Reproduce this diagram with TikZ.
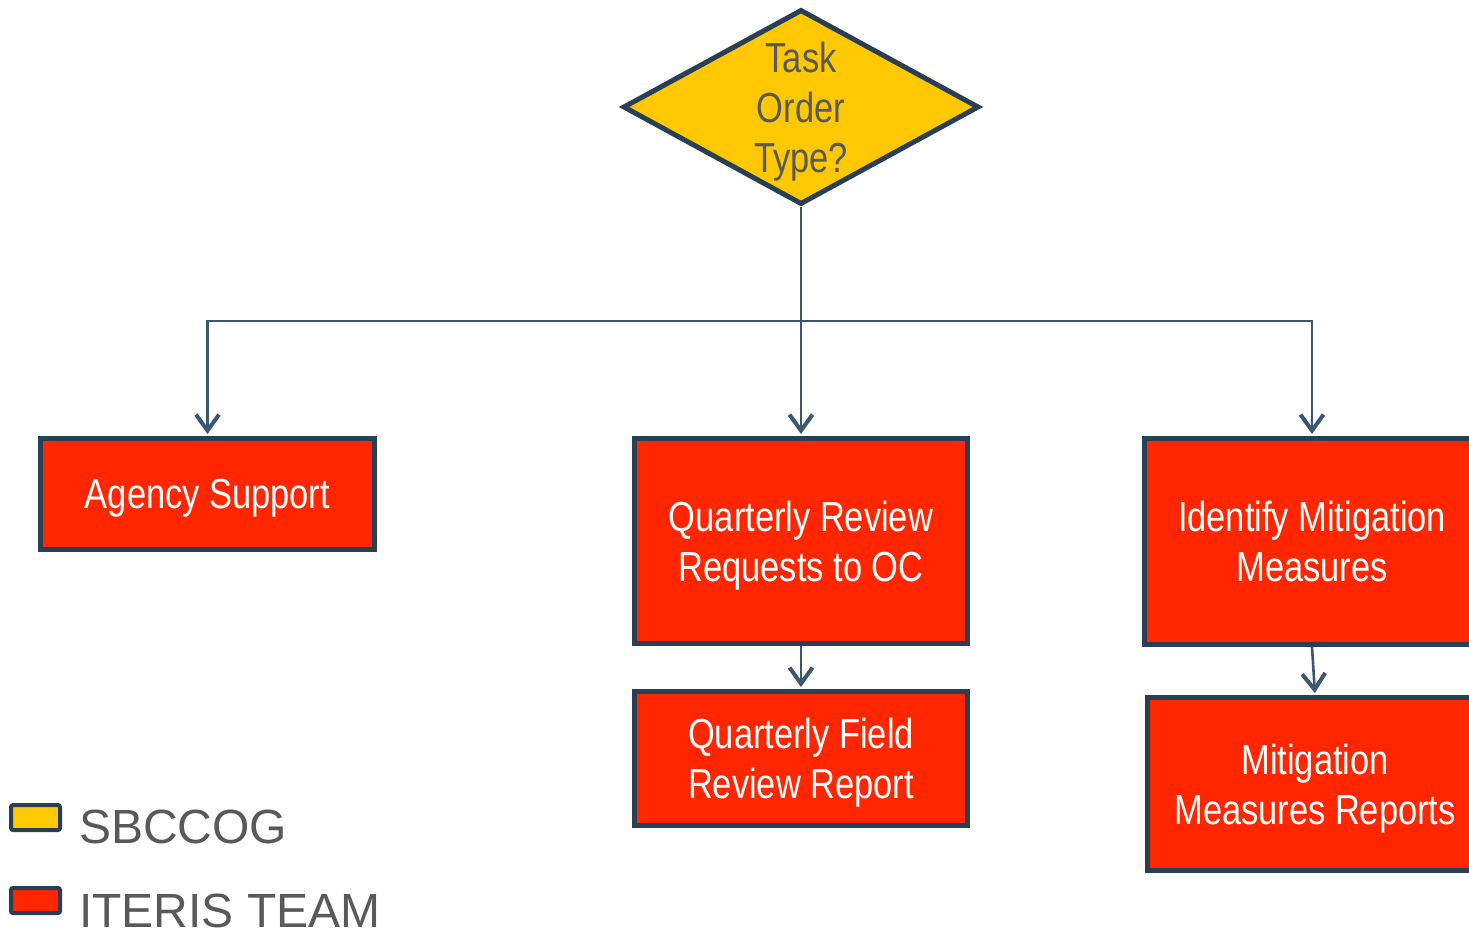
\documentclass[tikz,border=0pt]{standalone}
\usepackage{fontspec}
\usetikzlibrary{shapes.geometric,arrows.meta}
\newfontfamily\narrowfont[FakeStretch=0.82]{Liberation Sans}
\newfontfamily\legendfont{Liberation Sans}
\definecolor{tyellow}{HTML}{FFC800}
\definecolor{tred}{HTML}{FF2600}
\definecolor{tborder}{HTML}{283F55}
\definecolor{tconn}{HTML}{3B5672}
\definecolor{tgray}{HTML}{595959}
\tikzset{
  box/.style={draw=tborder, fill=tred, line width=5pt, inner sep=0pt, text depth=-9pt,
    text=white, align=center, font=\narrowfont\fontsize{42}{50}\selectfont},
  decision/.style={diamond, draw=tborder, fill=tyellow, line width=5pt, inner sep=0pt, aspect=1},
  dlabel/.style={text=tgray, align=center, inner sep=0pt, font=\narrowfont\fontsize{42}{50}\selectfont},
  conn/.style={draw=tconn, line width=2.6pt,
    -{Straight Barb[length=16pt,width=23pt,line width=4pt]}, shorten >=2pt},
  swatch/.style={draw=tborder, line width=4pt, rounded corners=2pt, inner sep=0pt,
    minimum width=49pt, minimum height=25pt},
  legtext/.style={anchor=base west, inner sep=0pt, text=tgray, font=\legendfont\fontsize{48}{56}\selectfont}
}
\begin{document}
\begin{tikzpicture}[x=1pt,y=-1pt]
\path[use as bounding box] (0,0) rectangle (1469,932);
\clip (0,0) rectangle (1469,932);
% decision
\node[decision, minimum width=356pt, minimum height=195pt] (d) at (801,107) {};
\node[dlabel] (dt) at (801,112) {Task\\Order\\Type?};
% boxes
\node[box, minimum width=334pt, minimum height=111pt] (as) at (207.5,494) {Agency Support};
\node[box, minimum width=333pt, minimum height=205pt] (qr) at (801,541) {Quarterly Review\\Requests to OC};
\node[box, minimum width=333pt, minimum height=134pt] (qf) at (801,758.5) {Quarterly Field\\Review Report};
\node[box, minimum width=335pt, minimum height=206pt] (im) at (1312,541.5) {Identify Mitigation\\Measures};
\node[box, minimum width=335pt, minimum height=173pt] (mm) at (1315,784) {Mitigation\\Measures Reports};
% connectors
\coordinate (j) at (801,321);
\draw[conn] (d.south) -- (qr.north);
\draw[conn] (j) -| (as.north);
\draw[conn] (j) -| (im.north);
\draw[conn] (qr.south) -- (qf.north);
\draw[conn] (im.south) -- (mm.north);
% legend
\node[swatch, fill=tyellow] (s1) at (35.5,817.5) {};
\node[legtext] (l1) at (79,843) {SBCCOG};
\node[swatch, fill=tred] (s2) at (35.5,900.5) {};
\node[legtext] (l2) at (79,927) {ITERIS TEAM};
\end{tikzpicture}
\end{document}
